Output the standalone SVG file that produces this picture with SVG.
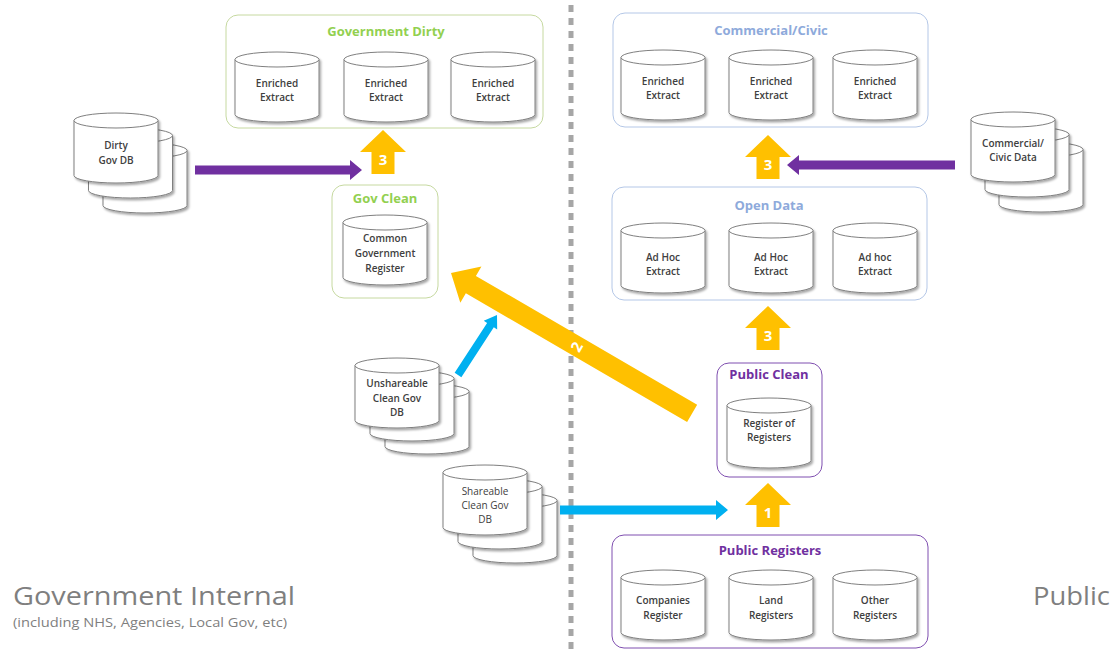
<svg xmlns="http://www.w3.org/2000/svg" xmlns:xlink="http://www.w3.org/1999/xlink" width="1116" height="652" viewBox="0 0 1116 652">
<style>
.t{font-family:"Open Sans","Liberation Sans",sans-serif;font-size:10px;font-weight:600;fill:#404040;text-anchor:middle}
.tr{font-weight:400}
.title{font-family:"Open Sans","Liberation Sans",sans-serif;font-size:13px;font-weight:700;text-anchor:middle}
.cyl{fill:#fff;stroke:#7f7f7f;stroke-width:1}
.box{fill:#fff;stroke-width:1}
.green{stroke:#c6d9a0}
.blue{stroke:#b4c7e7}
.purple{stroke:#7f4fb0}
.gt{fill:#92d050}
.bt{fill:#8eaadb}
.pt{fill:#7030a0}
.yel{fill:#ffc000}
.pur{fill:#7030a0}
.cyan{fill:#00b0f0}
.num{font-family:"Open Sans","Liberation Sans",sans-serif;font-size:15px;font-weight:700;fill:#fff;text-anchor:middle}
.big{font-family:"Open Sans","Liberation Sans",sans-serif;font-size:26px;fill:#7f7f7f}
.sub{font-family:"Open Sans","Liberation Sans",sans-serif;font-size:12.5px;fill:#7f7f7f}
</style>
<defs>
<filter id="sh" x="-10%" y="-10%" width="130%" height="130%">
<feDropShadow dx="1.5" dy="2" stdDeviation="1.2" flood-color="#000" flood-opacity="0.35"/>
</filter>
<g id="cyl" filter="url(#sh)">
<path class="cyl" d="M0,7.5 A42,7.5 0 0 1 84,7.5 V62.5 A42,7.5 0 0 1 0,62.5 Z"/>
<path class="cyl" fill="none" d="M0,7.5 A42,7.5 0 0 0 84,7.5"/>
</g>
<path id="up" d="M0,0 L23,22 L11.5,22 L11.5,44 L-11.5,44 L-11.5,22 L-23,22 Z"/>
</defs>
<rect width="1116" height="652" fill="#fff"/>

<line x1="571" y1="5" x2="571" y2="652" stroke="#a6a6a6" stroke-width="5" stroke-dasharray="7 6"/>

<g id="gov-dirty">
<rect class="box green" x="226" y="15" width="317" height="113" rx="12"/>
<text class="title gt" x="386" y="36">Government Dirty</text>
<use href="#cyl" x="235" y="52"/>
<text class="t" x="277" y="87">Enriched</text><text class="t" x="277" y="101">Extract</text>
<use href="#cyl" x="344" y="52"/>
<text class="t" x="386" y="87">Enriched</text><text class="t" x="386" y="101">Extract</text>
<use href="#cyl" x="451" y="52"/>
<text class="t" x="493" y="87">Enriched</text><text class="t" x="493" y="101">Extract</text>
</g>

<g id="commercial-civic">
<rect class="box blue" x="613" y="13" width="315" height="114" rx="12"/>
<text class="title bt" x="771" y="35">Commercial/Civic</text>
<use href="#cyl" x="621" y="50"/>
<text class="t" x="663" y="85">Enriched</text><text class="t" x="663" y="99">Extract</text>
<use href="#cyl" x="729" y="50"/>
<text class="t" x="771" y="85">Enriched</text><text class="t" x="771" y="99">Extract</text>
<use href="#cyl" x="833" y="50"/>
<text class="t" x="875" y="85">Enriched</text><text class="t" x="875" y="99">Extract</text>
</g>

<g id="open-data">
<rect class="box blue" x="612" y="187" width="315" height="113" rx="12"/>
<text class="title bt" x="769" y="210">Open Data</text>
<use href="#cyl" x="621" y="223"/>
<text class="t" x="663" y="261">Ad Hoc</text><text class="t" x="663" y="275">Extract</text>
<use href="#cyl" x="729" y="223"/>
<text class="t" x="771" y="261">Ad Hoc</text><text class="t" x="771" y="275">Extract</text>
<use href="#cyl" x="833" y="223"/>
<text class="t" x="875" y="261">Ad hoc</text><text class="t" x="875" y="275">Extract</text>
</g>

<g id="gov-clean">
<rect class="box green" x="332" y="185" width="106" height="113" rx="12"/>
<text class="title gt" x="385" y="203">Gov Clean</text>
<use href="#cyl" x="343" y="215"/>
<text class="t" x="385" y="242">Common</text><text class="t" x="385" y="257">Government</text><text class="t" x="385" y="272">Register</text>
</g>

<g id="public-clean">
<rect class="box purple" x="717" y="363" width="105" height="114" rx="12"/>
<text class="title pt" x="769" y="379">Public Clean</text>
<use href="#cyl" x="727" y="398"/>
<text class="t" x="769" y="427">Register of</text><text class="t" x="769" y="441">Registers</text>
</g>

<g id="public-registers">
<rect class="box purple" x="612" y="535" width="316" height="113" rx="12"/>
<text class="title pt" x="770" y="555">Public Registers</text>
<use href="#cyl" x="621" y="570"/>
<text class="t" x="663" y="604">Companies</text><text class="t" x="663" y="619">Register</text>
<use href="#cyl" x="729" y="570"/>
<text class="t" x="771" y="604">Land</text><text class="t" x="771" y="619">Registers</text>
<use href="#cyl" x="833" y="570"/>
<text class="t" x="875" y="604">Other</text><text class="t" x="875" y="619">Registers</text>
</g>

<g id="dirty-gov-db">
<use href="#cyl" x="103" y="143"/>
<use href="#cyl" x="88.5" y="128"/>
<use href="#cyl" x="74" y="113"/>
<text class="t" x="116" y="149">Dirty</text><text class="t" x="116" y="164">Gov DB</text>
</g>

<g id="commercial-civic-data">
<use href="#cyl" x="999" y="142"/>
<use href="#cyl" x="985" y="127"/>
<use href="#cyl" x="971" y="112"/>
<text class="t" x="1013" y="147">Commercial/</text><text class="t" x="1013" y="161">Civic Data</text>
</g>

<g id="unshareable-db">
<use href="#cyl" x="385" y="384"/>
<use href="#cyl" x="370" y="371"/>
<use href="#cyl" x="355" y="358"/>
<text class="t" x="397" y="387">Unshareable</text><text class="t" x="397" y="402">Clean Gov</text><text class="t" x="397" y="416">DB</text>
</g>

<g id="shareable-db">
<use href="#cyl" x="473" y="493"/>
<use href="#cyl" x="458" y="479"/>
<use href="#cyl" x="443" y="465"/>
<text class="t tr" x="485" y="495">Shareable</text><text class="t tr" x="485" y="509">Clean Gov</text><text class="t tr" x="485" y="523">DB</text>
</g>

<g id="connectors">
<path class="pur" d="M195,165.5 H350 V160 L362,170 L350,180 V174.5 H195 Z"/>
<path class="pur" d="M955,160.5 H799 V155 L787,165 L799,175 V169.5 H955 Z"/>
<path class="cyan" d="M560,505.5 H716 V500 L728,510 L716,520 V514.5 H560 Z"/>
<path class="cyan" transform="translate(497,315) rotate(-57)" d="M-71.6,-4 H-12 V-8 L0,0 L-12,8 V4 H-71.6 Z"/>
<path class="yel" transform="translate(451,273) rotate(30.2)" d="M0,0 L23,-21 L23,-10 L279,-10 L279,10 L23,10 L23,21 Z"/>
<text class="num" transform="translate(577,347) rotate(-60)" y="5">2</text>
<use href="#up" class="yel" x="383" y="130"/>
<text class="num" x="383" y="165">3</text>
<use href="#up" class="yel" x="768" y="135"/>
<text class="num" x="768" y="170">3</text>
<use href="#up" class="yel" x="768" y="306"/>
<text class="num" x="768" y="341">3</text>
<use href="#up" class="yel" x="768" y="483"/>
<text class="num" x="768" y="518">1</text>
</g>

<g id="labels">
<text class="big" x="13" y="605" textLength="282" lengthAdjust="spacingAndGlyphs">Government Internal</text>
<text class="sub" x="13" y="627" textLength="274" lengthAdjust="spacingAndGlyphs">(including NHS, Agencies, Local Gov, etc)</text>
<text class="big" x="1033" y="605" textLength="77" lengthAdjust="spacingAndGlyphs">Public</text>
</g>
</svg>
